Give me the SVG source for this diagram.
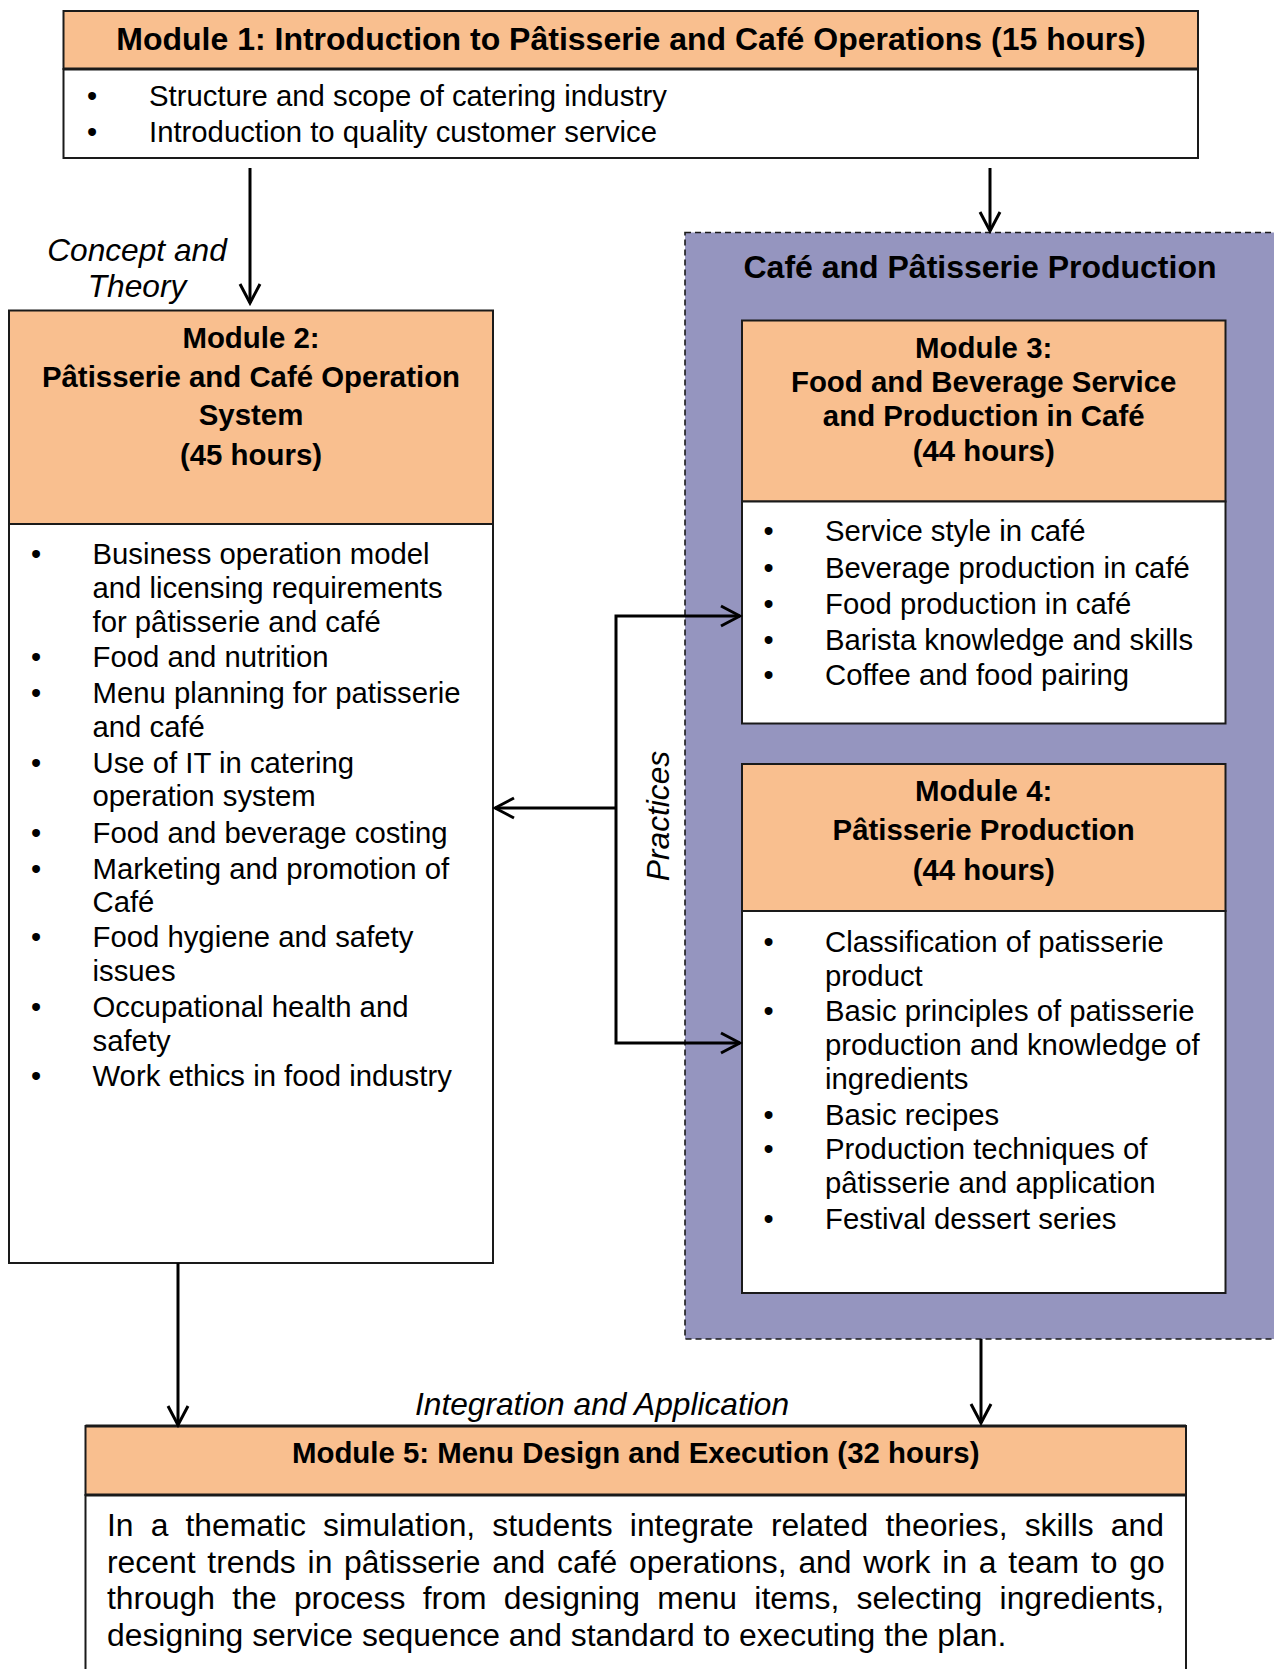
<svg xmlns="http://www.w3.org/2000/svg" width="1274" height="1669" viewBox="0 0 1274 1669">
<style>
.box{fill:#ffffff;stroke:#1a1a1a;stroke-width:2}
.hdr{fill:#F9BF8F;stroke:#1a1a1a;stroke-width:2}
.t{font-family:"Liberation Sans",Arial,sans-serif;fill:#000}
.b{font-weight:bold;font-size:29.4px;text-anchor:middle}
.big{font-weight:bold;font-size:32px;text-anchor:middle}
.body{font-size:29.3px}
.bul{font-size:29px;text-anchor:middle}
.lab{font-style:italic;font-size:31.7px}
.par{font-size:31.85px}
.con{fill:none;stroke:#000;stroke-width:3}
</style>
<defs>
<marker id="ah" markerUnits="userSpaceOnUse" markerWidth="24" markerHeight="26" refX="21" refY="12" orient="auto">
<path d="M2,2 L21,12 L2,22" fill="none" stroke="#000" stroke-width="3"/>
</marker>
</defs>
<rect width="1274" height="1669" fill="#ffffff"/>

<g id="production-group">
<rect x="685" y="232.5" width="600" height="1106.5" fill="#9595BF" stroke="#1a1a1a" stroke-width="1.6" stroke-dasharray="6,4"/>
<text class="t big" x="980" y="278">Café and Pâtisserie Production</text>
</g>

<g id="module1">
<rect class="hdr" x="63.5" y="11" width="1134.5" height="58"/>
<rect class="box" x="63.5" y="69" width="1134.5" height="89"/>
<line x1="63.5" y1="69" x2="1198" y2="69" stroke="#1a1a1a" stroke-width="3"/>
<text class="t big" x="631" y="50">Module 1: Introduction to Pâtisserie and Café Operations (15 hours)</text>
<text class="t bul" x="92" y="106">•</text>
<text class="t body" x="149" y="106">Structure and scope of catering industry</text>
<text class="t bul" x="92" y="142">•</text>
<text class="t body" x="149" y="142">Introduction to quality customer service</text>
</g>

<g id="module2">
<rect class="hdr" x="9" y="310.5" width="484" height="213.5"/>
<rect class="box" x="9" y="524" width="484" height="739"/>
<text class="t b" x="251" y="347.5">Module 2:</text>
<text class="t b" x="251" y="386.5">Pâtisserie and Café Operation</text>
<text class="t b" x="251" y="425">System</text>
<text class="t b" x="251" y="465">(45 hours)</text>
<g class="t body">
<text x="92.5" y="563.6">Business operation model</text>
<text x="92.5" y="597.7">and licensing requirements</text>
<text x="92.5" y="631.8">for pâtisserie and café</text>
<text x="92.5" y="666.9">Food and nutrition</text>
<text x="92.5" y="703.1">Menu planning for patisserie</text>
<text x="92.5" y="737.1">and café</text>
<text x="92.5" y="773.3">Use of IT in catering</text>
<text x="92.5" y="806.3">operation system</text>
<text x="92.5" y="842.5">Food and beverage costing</text>
<text x="92.5" y="878.7">Marketing and promotion of</text>
<text x="92.5" y="911.7">Café</text>
<text x="92.5" y="946.8">Food hygiene and safety</text>
<text x="92.5" y="980.8">issues</text>
<text x="92.5" y="1017">Occupational health and</text>
<text x="92.5" y="1051">safety</text>
<text x="92.5" y="1086.2">Work ethics in food industry</text>
</g>
<g class="t bul">
<text x="36" y="563.6">•</text>
<text x="36" y="666.9">•</text>
<text x="36" y="703.1">•</text>
<text x="36" y="773.3">•</text>
<text x="36" y="842.5">•</text>
<text x="36" y="878.7">•</text>
<text x="36" y="946.8">•</text>
<text x="36" y="1017">•</text>
<text x="36" y="1086.2">•</text>
</g>
</g>

<g id="module3">
<rect class="hdr" x="742" y="320.5" width="483.5" height="181"/>
<rect class="box" x="742" y="501.5" width="483.5" height="222"/>
<text class="t b" x="983.7" y="357.5">Module 3:</text>
<text class="t b" x="983.7" y="391.7">Food and Beverage Service</text>
<text class="t b" x="983.7" y="425.6">and Production in Café</text>
<text class="t b" x="983.7" y="461">(44 hours)</text>
<g class="t body">
<text x="825" y="541">Service style in café</text>
<text x="825" y="577.5">Beverage production in café</text>
<text x="825" y="613.5">Food production in café</text>
<text x="825" y="649.5">Barista knowledge and skills</text>
<text x="825" y="684.5">Coffee and food pairing</text>
</g>
<g class="t bul">
<text x="768.5" y="541">•</text>
<text x="768.5" y="577.5">•</text>
<text x="768.5" y="613.5">•</text>
<text x="768.5" y="649.5">•</text>
<text x="768.5" y="684.5">•</text>
</g>
</g>

<g id="module4">
<rect class="hdr" x="742" y="764" width="483.5" height="147"/>
<rect class="box" x="742" y="911" width="483.5" height="382"/>
<text class="t b" x="983.7" y="801">Module 4:</text>
<text class="t b" x="983.7" y="840">Pâtisserie Production</text>
<text class="t b" x="983.7" y="880">(44 hours)</text>
<g class="t body">
<text x="825" y="951.8">Classification of patisserie</text>
<text x="825" y="986">product</text>
<text x="825" y="1021">Basic principles of patisserie</text>
<text x="825" y="1055">production and knowledge of</text>
<text x="825" y="1089">ingredients</text>
<text x="825" y="1124.5">Basic recipes</text>
<text x="825" y="1159">Production techniques of</text>
<text x="825" y="1193">pâtisserie and application</text>
<text x="825" y="1229">Festival dessert series</text>
</g>
<g class="t bul">
<text x="768.5" y="951.8">•</text>
<text x="768.5" y="1021">•</text>
<text x="768.5" y="1124.5">•</text>
<text x="768.5" y="1159">•</text>
<text x="768.5" y="1229">•</text>
</g>
</g>

<g id="module5">
<rect class="hdr" x="85.5" y="1426" width="1100.5" height="69"/>
<rect class="box" x="85.5" y="1495" width="1100.5" height="200"/>
<line x1="85.5" y1="1495" x2="1186" y2="1495" stroke="#1a1a1a" stroke-width="3"/>
<line x1="85.5" y1="1426" x2="1186" y2="1426" stroke="#1a1a1a" stroke-width="3"/>
<text class="t b" x="635.7" y="1463.3">Module 5: Menu Design and Execution (32 hours)</text>
<g class="t par">
<text x="107" y="1535.8" word-spacing="8.28">In a thematic simulation, students integrate related theories, skills and</text>
<text x="107" y="1572.5" word-spacing="2.93">recent trends in pâtisserie and café operations, and work in a team to go</text>
<text x="107" y="1609.2" word-spacing="8.47">through the process from designing menu items, selecting ingredients,</text>
<text x="107" y="1645.9">designing service sequence and standard to executing the plan.</text>
</g>
</g>

<g id="labels">
<text class="t lab" x="137" y="261" text-anchor="middle">Concept and</text>
<text class="t lab" x="137" y="297" text-anchor="middle">Theory</text>
<text class="t lab" x="602" y="1415" text-anchor="middle">Integration and Application</text>
<text class="t lab" transform="translate(669,816) rotate(-90)" text-anchor="middle">Practices</text>
</g>

<g id="connectors">
<path class="con" d="M250,168 L250,303" marker-end="url(#ah)"/>
<path class="con" d="M990,168 L990,231" marker-end="url(#ah)"/>
<path class="con" d="M616,808 L616,616 L740,616" marker-end="url(#ah)"/>
<path class="con" d="M616,808 L616,1043 L740,1043" marker-end="url(#ah)"/>
<path class="con" d="M616,808 L495,808" marker-end="url(#ah)"/>
<path class="con" d="M178,1263 L178,1425" marker-end="url(#ah)"/>
<path class="con" d="M981,1339 L981,1423" marker-end="url(#ah)"/>
</g>
</svg>
